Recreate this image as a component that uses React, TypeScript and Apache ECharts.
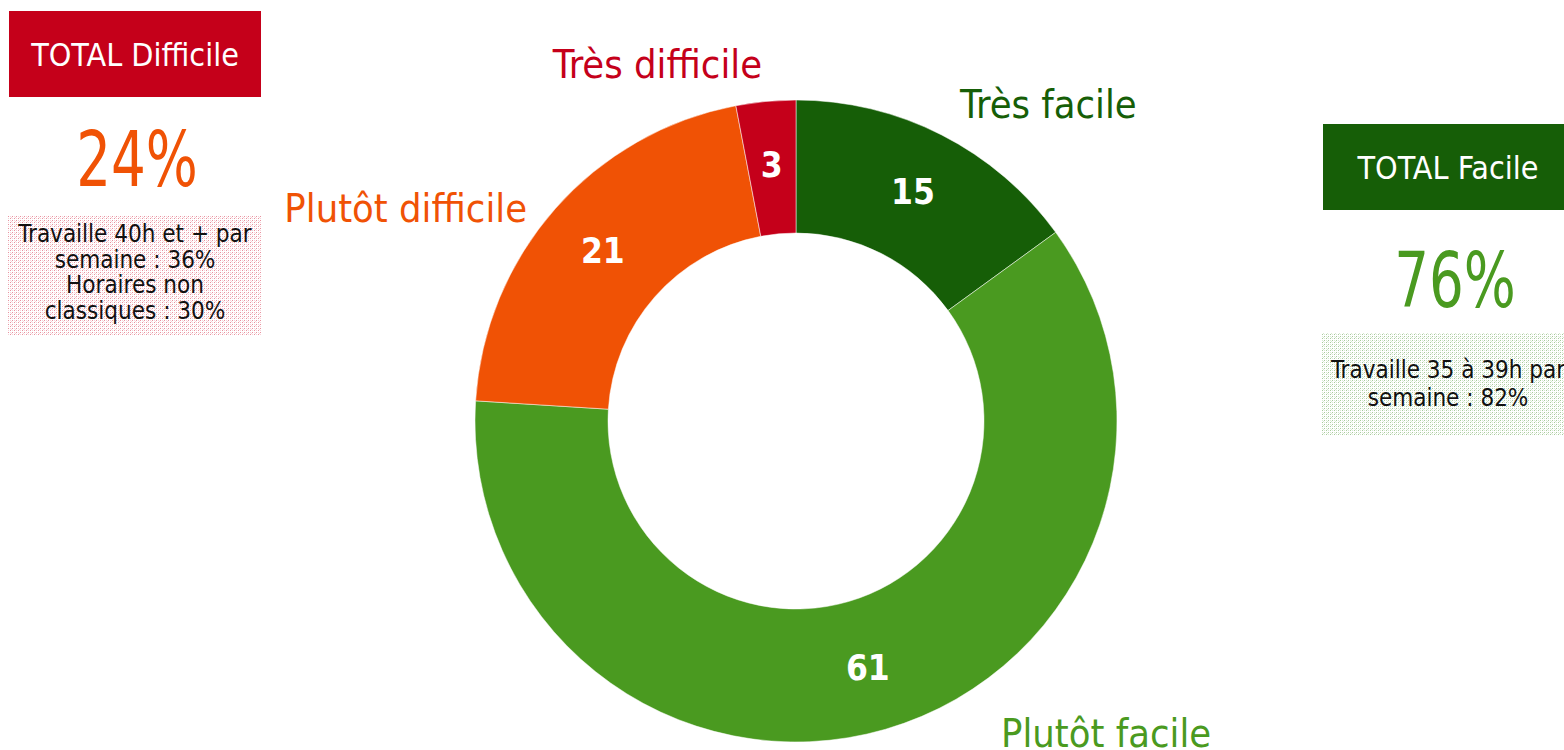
import React, { useEffect, useRef } from "react";
import * as echarts from "echarts";

const categories = ["Très facile", "Plutôt facile", "Plutôt difficile", "Très difficile"];
const values = [15, 61, 21, 3];
const colors = ["#165E07", "#4A9A20", "#F05205", "#C5001A"];

const leftTitle = "TOTAL Difficile";
const leftValue = "24%";
const leftNotes = ["Travaille 40h et + par", "semaine : 36%", "Horaires non", "classiques : 30%"];
const rightTitle = "TOTAL Facile";
const rightValue = "76%";
const rightNotes = ["Travaille 35 à 39h par", "semaine : 82%"];

const FONT = "'DejaVu Sans Condensed', 'DejaVu Sans', sans-serif";

function makePattern(dot: string, light: string) {
  const c = document.createElement("canvas");
  c.width = 4;
  c.height = 4;
  const ctx = c.getContext("2d")!;
  ctx.fillStyle = "#ffffff";
  ctx.fillRect(0, 0, 4, 4);
  ctx.fillStyle = dot;
  ctx.fillRect(0, 0, 1, 1);
  ctx.fillRect(2, 2, 1, 1);
  ctx.fillStyle = light;
  ctx.fillRect(2, 0, 1, 1);
  ctx.fillRect(0, 2, 1, 1);
  ctx.fillRect(3, 1, 1, 1);
  return { image: c, repeat: "repeat", imageWidth: 4, imageHeight: 4 } as any;
}

export default function App() {
  const ref = useRef<HTMLDivElement>(null);
  useEffect(() => {
    if (!ref.current) return;
    const chart = echarts.init(ref.current, null, { renderer: "svg" });
    const pinkPattern = makePattern("#E8929F", "#F7D2D8");
    const greenPattern = makePattern("#A8CA9C", "#D8E9D2");

    const outsideLabelPos = [
      { x: 960, y: 104, align: "left" },
      { x: 1001, y: 733, align: "left" },
      { x: 527, y: 208, align: "right" },
      { x: 762, y: 64, align: "right" },
    ];

    const bigText = (text: string, x: number, y: number, fill: string) => ({
      type: "text", x, y, scaleX: 0.8,
      style: { text, fill, font: `76px ${FONT}`, textAlign: "center", textVerticalAlign: "middle" },
    });

    const graphic: any[] = [
      { type: "rect", shape: { x: 9, y: 11, width: 252, height: 86 }, style: { fill: "#C5001A" } },
      { type: "text", x: 135, y: 55, style: { text: leftTitle, fill: "#fff", font: `32px ${FONT}`, textAlign: "center", textVerticalAlign: "middle" } },
      bigText(leftValue, 137, 159, "#F05205"),
      { type: "rect", shape: { x: 8, y: 215, width: 253, height: 120 }, style: { fill: pinkPattern } },
      ...leftNotes.map((t, i) => ({
        type: "text", x: 135, y: 234 + i * 25.5,
        style: { text: t, fill: "#111", font: `24px ${FONT}`, textAlign: "center", textVerticalAlign: "middle" },
      })),
      { type: "rect", shape: { x: 1323, y: 124, width: 241, height: 86 }, style: { fill: "#165E07" } },
      { type: "text", x: 1448, y: 168, style: { text: rightTitle, fill: "#fff", font: `32px ${FONT}`, textAlign: "center", textVerticalAlign: "middle" } },
      bigText(rightValue, 1455, 280, "#4A9A20"),
      { type: "rect", shape: { x: 1322, y: 333, width: 242, height: 103 }, style: { fill: greenPattern } },
      ...rightNotes.map((t, i) => ({
        type: "text", x: 1448, y: 370 + i * 28,
        style: { text: t, fill: "#111", font: `24px ${FONT}`, textAlign: "center", textVerticalAlign: "middle" },
      })),
      ...categories.map((c, i) => ({
        type: "text", x: outsideLabelPos[i].x, y: outsideLabelPos[i].y,
        style: { text: c, fill: colors[i], font: `39.5px ${FONT}`, textAlign: outsideLabelPos[i].align, textVerticalAlign: "middle" },
      })),
    ];

    chart.setOption({
      animation: false,
      backgroundColor: "#ffffff",
      graphic,
      series: [
        {
          type: "pie",
          center: [796, 421],
          radius: [188, 321],
          startAngle: 90,
          clockwise: true,
          avoidLabelOverlap: false,
          itemStyle: { borderColor: "#ffffff", borderWidth: 0.5 },
          label: {
            show: true,
            position: "inside",
            formatter: "{c}",
            color: "#ffffff",
            fontFamily: FONT,
            fontWeight: "bold",
            fontSize: 35,
          },
          labelLine: { show: false },
          emphasis: { disabled: true },
          data: categories.map((name, i) => ({ name, value: values[i], itemStyle: { color: colors[i] } })),
        },
      ],
    });
    return () => chart.dispose();
  }, []);
  return <div ref={ref} style={{ position: "absolute", left: 0, top: 0, width: 1564, height: 750 }} />;
}
